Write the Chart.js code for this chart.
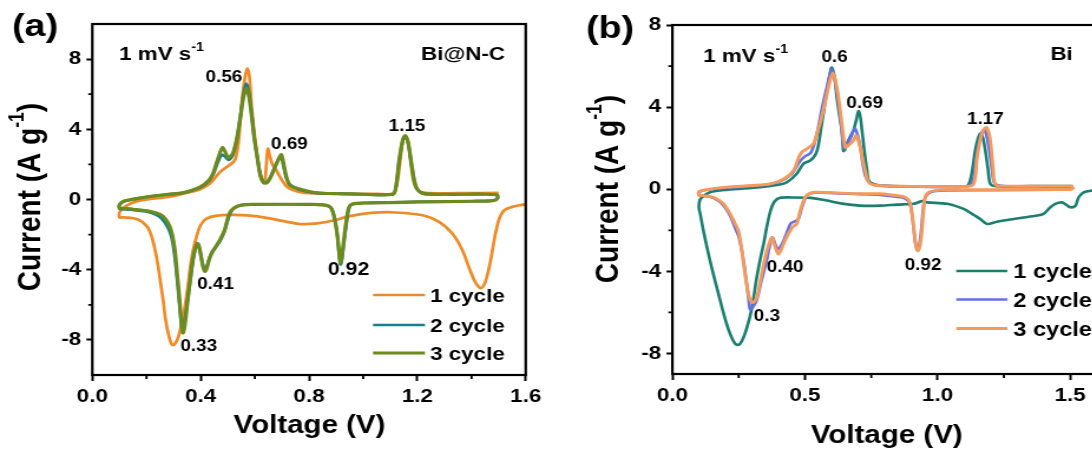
<!DOCTYPE html>
<html>
<head>
<meta charset="utf-8">
<title>CV curves Bi@N-C / Bi</title>
<script src="https://cdn.jsdelivr.net/npm/chart.js@4.4.0/dist/chart.umd.min.js"></script>
<style>
  html, body { margin: 0; padding: 0; background: #fff; }
  #page { position: relative; width: 1092px; height: 455px; overflow: hidden; background: #fff; }
  #page canvas { position: absolute; top: 0; }
</style>
</head>
<body>
<div id="page">
  <canvas id="cvA"></canvas>
  <canvas id="cvB"></canvas>
</div>
<script>
// ==========================
// DATA  (voltage V, current A/g, in scan order)
// ==========================

// (a) Bi@N-C
const a1V = [1.60, 1.58, 1.55, 1.52, 1.50, 1.485, 1.47, 1.455, 1.445, 1.435, 1.425, 1.41, 1.39, 1.365, 1.33, 1.28, 1.22, 1.12, 1.04, 0.95, 0.89, 0.83, 0.77, 0.70, 0.61, 0.52, 0.46, 0.42, 0.40, 0.385, 0.372, 0.362, 0.354, 0.345, 0.335, 0.325, 0.317, 0.308, 0.299, 0.290, 0.280, 0.270, 0.262, 0.252, 0.243, 0.232, 0.219, 0.205, 0.188, 0.170, 0.151, 0.130, 0.110, 0.100,
             0.100, 0.110, 0.130, 0.160, 0.210, 0.280, 0.360, 0.400, 0.435, 0.470, 0.500, 0.515, 0.528, 0.540, 0.550, 0.560, 0.572, 0.580, 0.588, 0.598, 0.608, 0.620, 0.630, 0.637, 0.643, 0.648, 0.655, 0.665, 0.680, 0.700, 0.720, 0.760, 0.820, 0.950, 1.050, 1.110, 1.125, 1.135, 1.145, 1.155, 1.165, 1.175, 1.185, 1.200, 1.230, 1.350, 1.500];
const a1I = [-0.28, -0.32, -0.42, -0.62, -1.2, -2.2, -3.5, -4.5, -4.9, -5.05, -4.95, -4.6, -3.85, -2.85, -1.95, -1.28, -0.9, -0.74, -0.75, -0.95, -1.2, -1.36, -1.40, -1.22, -0.96, -0.88, -0.92, -1.1, -1.45, -2.1, -2.9, -3.8, -4.8, -5.8, -6.7, -7.4, -7.85, -8.15, -8.3, -8.15, -7.6, -6.8, -5.8, -4.75, -3.8, -2.9, -2.1, -1.6, -1.32, -1.15, -1.07, -1.03, -1.02, -1.02,
             -0.75, -0.55, -0.32, -0.12, 0.02, 0.15, 0.42, 0.6, 0.92, 1.55, 1.9, 2.05, 2.3, 3.3, 5.2, 6.6, 7.45, 7.0, 5.3, 3.8, 2.6, 1.35, 1.02, 1.1, 2.1, 2.9, 2.5, 2.0, 1.65, 1.1, 0.7, 0.45, 0.35, 0.33, 0.32, 0.35, 0.9, 2.0, 3.2, 3.65, 3.3, 2.2, 1.1, 0.55, 0.38, 0.36, 0.38];

const a2V = [1.500, 1.490, 1.470, 1.400, 1.200, 1.000, 0.960, 0.948, 0.938, 0.928, 0.921, 0.916, 0.911, 0.905, 0.898, 0.890, 0.880, 0.860, 0.800, 0.700, 0.600, 0.550, 0.522, 0.507, 0.497, 0.487, 0.472, 0.457, 0.443, 0.432, 0.423, 0.416, 0.409, 0.401, 0.393, 0.387, 0.380, 0.372, 0.362, 0.353, 0.344, 0.337, 0.332, 0.327, 0.320, 0.312, 0.303, 0.293, 0.282, 0.265, 0.245, 0.210, 0.150, 0.110, 0.100,
             0.100, 0.115, 0.150, 0.210, 0.280, 0.335, 0.397, 0.430, 0.447, 0.463, 0.478, 0.490, 0.502, 0.518, 0.534, 0.548, 0.558, 0.568, 0.578, 0.588, 0.598, 0.610, 0.620, 0.632, 0.645, 0.658, 0.672, 0.686, 0.696, 0.706, 0.716, 0.730, 0.765, 0.820, 0.900, 1.000, 1.110, 1.121, 1.133, 1.146, 1.155, 1.166, 1.180, 1.195, 1.220, 1.300, 1.450, 1.490, 1.500];
const a2I = [0.2, 0.0, -0.08, -0.1, -0.14, -0.2, -0.27, -0.5, -1.4, -2.6, -3.5, -3.7, -3.1, -2.1, -1.35, -0.8, -0.45, -0.33, -0.28, -0.27, -0.28, -0.33, -0.5, -0.85, -1.35, -1.85, -2.35, -2.7, -3.0, -3.35, -3.8, -4.0, -3.8, -3.2, -2.65, -2.55, -2.85, -3.5, -4.6, -5.6, -6.6, -7.2, -7.4, -6.9, -5.7, -4.4, -3.1, -2.2, -1.7, -1.25, -0.95, -0.72, -0.6, -0.55, -0.53,
             -0.33, -0.12, 0.0, 0.16, 0.3, 0.38, 0.68, 1.05, 1.45, 2.1, 2.55, 2.45, 2.25, 2.5, 3.5, 4.9, 6.0, 6.6, 6.1, 4.9, 3.5, 2.3, 1.45, 1.0, 1.0, 1.3, 1.8, 2.25, 2.45, 1.9, 1.25, 0.85, 0.55, 0.38, 0.33, 0.3, 0.3, 0.73, 2.2, 3.35, 3.58, 3.2, 1.85, 0.73, 0.35, 0.3, 0.3, 0.27, 0.2];

const a3V = [1.500, 1.490, 1.470, 1.400, 1.200, 1.000, 0.960, 0.947, 0.937, 0.927, 0.920, 0.916, 0.911, 0.905, 0.898, 0.890, 0.880, 0.860, 0.800, 0.700, 0.600, 0.550, 0.522, 0.506, 0.496, 0.487, 0.471, 0.457, 0.444, 0.433, 0.423, 0.416, 0.409, 0.401, 0.393, 0.387, 0.380, 0.372, 0.362, 0.354, 0.346, 0.339, 0.334, 0.329, 0.321, 0.313, 0.305, 0.295, 0.285, 0.270, 0.250, 0.212, 0.151, 0.110, 0.100,
             0.100, 0.115, 0.150, 0.210, 0.280, 0.335, 0.397, 0.430, 0.446, 0.463, 0.480, 0.491, 0.501, 0.518, 0.534, 0.548, 0.559, 0.569, 0.578, 0.588, 0.598, 0.610, 0.620, 0.632, 0.645, 0.658, 0.672, 0.686, 0.698, 0.708, 0.718, 0.730, 0.765, 0.820, 0.900, 1.000, 1.110, 1.121, 1.133, 1.146, 1.155, 1.166, 1.180, 1.195, 1.220, 1.300, 1.450, 1.490, 1.500];
const a3I = [0.15, -0.02, -0.08, -0.1, -0.14, -0.2, -0.25, -0.45, -1.3, -2.5, -3.4, -3.6, -3.0, -2.1, -1.4, -0.8, -0.45, -0.32, -0.28, -0.27, -0.28, -0.32, -0.5, -0.8, -1.3, -1.8, -2.3, -2.65, -2.95, -3.35, -3.9, -4.1, -3.85, -3.2, -2.6, -2.5, -2.8, -3.3, -4.5, -5.5, -6.6, -7.4, -7.6, -7.0, -5.5, -4.2, -2.9, -2.0, -1.5, -1.1, -0.85, -0.68, -0.56, -0.5, -0.48,
             -0.3, -0.1, 0.02, 0.17, 0.3, 0.38, 0.7, 1.1, 1.5, 2.3, 2.95, 2.7, 2.4, 2.6, 3.5, 4.8, 5.9, 6.35, 5.9, 4.8, 3.5, 2.3, 1.4, 0.95, 0.95, 1.25, 1.75, 2.25, 2.55, 1.9, 1.2, 0.8, 0.6, 0.4, 0.33, 0.3, 0.3, 0.73, 2.25, 3.4, 3.62, 3.25, 1.87, 0.73, 0.35, 0.3, 0.3, 0.27, 0.15];

// (b) Bi
const b1V = [1.600, 1.584, 1.551, 1.532, 1.520, 1.501, 1.485, 1.469, 1.444, 1.425, 1.400, 1.369, 1.287, 1.224, 1.186, 1.161, 1.130, 1.098, 1.036, 0.960, 0.941, 0.925, 0.910, 0.847, 0.784, 0.708, 0.640, 0.583, 0.520, 0.450, 0.406, 0.385, 0.370, 0.355, 0.345, 0.333, 0.318, 0.300, 0.281, 0.262, 0.247, 0.230, 0.205, 0.174, 0.142, 0.117, 0.105, 0.100,
             0.102, 0.111, 0.142, 0.205, 0.331, 0.400, 0.432, 0.469, 0.494, 0.520, 0.540, 0.550, 0.560, 0.572, 0.583, 0.593, 0.601, 0.611, 0.620, 0.630, 0.639, 0.645, 0.651, 0.658, 0.670, 0.683, 0.694, 0.702, 0.709, 0.715, 0.721, 0.727, 0.734, 0.740, 0.760, 0.784, 0.900, 1.050, 1.110, 1.123, 1.133, 1.142, 1.152, 1.161, 1.171, 1.180, 1.190, 1.199, 1.220, 1.350, 1.507];
const b1I = [-0.05, -0.06, -0.15, -0.39, -0.80, -0.88, -0.75, -0.64, -0.71, -0.88, -1.20, -1.29, -1.45, -1.58, -1.69, -1.45, -1.20, -0.96, -0.71, -0.64, -0.58, -0.65, -0.71, -0.75, -0.80, -0.80, -0.70, -0.55, -0.42, -0.40, -0.42, -0.60, -1.05, -1.90, -2.60, -3.30, -4.30, -5.77, -6.74, -7.39, -7.59, -7.39, -6.58, -5.11, -3.48, -2.02, -1.20, -0.90,
             -0.60, -0.40, -0.15, -0.03, 0.10, 0.22, 0.34, 0.75, 1.24, 1.40, 1.70, 2.10, 2.90, 3.90, 4.82, 5.55, 5.93, 5.50, 4.50, 3.60, 2.87, 1.86, 1.95, 2.22, 2.55, 2.87, 3.40, 3.81, 3.50, 2.87, 2.20, 1.56, 0.90, 0.43, 0.25, 0.18, 0.13, 0.12, 0.15, 0.43, 1.10, 1.89, 2.45, 2.71, 2.50, 1.89, 1.00, 0.26, 0.15, 0.15, 0.15];

const b2V = [1.510, 1.500, 1.450, 1.200, 1.036, 0.985, 0.966, 0.952, 0.944, 0.937, 0.929, 0.922, 0.915, 0.908, 0.897, 0.878, 0.820, 0.784, 0.708, 0.545, 0.520, 0.505, 0.488, 0.475, 0.460, 0.447, 0.435, 0.420, 0.405, 0.396, 0.386, 0.377, 0.368, 0.355, 0.337, 0.318, 0.303, 0.293, 0.287, 0.280, 0.272, 0.262, 0.250, 0.237, 0.218, 0.190, 0.155, 0.117, 0.100,
             0.100, 0.120, 0.205, 0.330, 0.400, 0.450, 0.480, 0.500, 0.520, 0.535, 0.550, 0.565, 0.585, 0.600, 0.610, 0.625, 0.637, 0.648, 0.658, 0.672, 0.688, 0.697, 0.708, 0.720, 0.735, 0.770, 0.900, 1.100, 1.130, 1.145, 1.160, 1.175, 1.185, 1.195, 1.205, 1.215, 1.250, 1.400, 1.510];
const b2I = [0.10, 0.00, -0.02, -0.05, -0.06, -0.1, -0.2, -0.45, -1.2, -2.2, -2.85, -2.95, -2.5, -1.7, -0.75, -0.45, -0.33, -0.28, -0.24, -0.17, -0.20, -0.35, -0.90, -1.45, -1.58, -1.65, -2.00, -2.50, -2.85, -2.91, -2.60, -2.35, -2.70, -3.50, -4.40, -5.40, -5.75, -5.85, -5.30, -4.60, -3.80, -3.00, -2.30, -1.90, -1.30, -0.75, -0.42, -0.32, -0.30,
             -0.15, -0.05, 0.07, 0.18, 0.35, 0.75, 1.35, 1.60, 1.75, 2.20, 3.00, 4.00, 5.10, 5.80, 5.50, 4.40, 3.10, 2.00, 2.15, 2.50, 2.95, 2.70, 2.10, 1.10, 0.45, 0.20, 0.13, 0.12, 0.30, 1.40, 2.50, 2.90, 2.60, 1.90, 1.00, 0.30, 0.15, 0.14, 0.12];

const b3V = [1.515, 1.505, 1.450, 1.200, 1.036, 0.985, 0.966, 0.953, 0.946, 0.940, 0.933, 0.925, 0.917, 0.910, 0.897, 0.878, 0.820, 0.784, 0.708, 0.545, 0.520, 0.501, 0.482, 0.469, 0.457, 0.444, 0.430, 0.419, 0.410, 0.400, 0.390, 0.380, 0.375, 0.366, 0.356, 0.347, 0.337, 0.318, 0.303, 0.294, 0.287, 0.274, 0.262, 0.249, 0.237, 0.218, 0.192, 0.155, 0.117, 0.100,
             0.100, 0.130, 0.205, 0.300, 0.369, 0.420, 0.457, 0.475, 0.488, 0.507, 0.532, 0.545, 0.557, 0.570, 0.583, 0.595, 0.605, 0.615, 0.626, 0.639, 0.652, 0.664, 0.683, 0.693, 0.708, 0.717, 0.727, 0.740, 0.771, 0.900, 1.100, 1.136, 1.149, 1.158, 1.167, 1.177, 1.186, 1.193, 1.199, 1.209, 1.218, 1.250, 1.400, 1.513];
const b3I = [0.10, 0.00, -0.01, -0.02, -0.03, -0.08, -0.15, -0.39, -1.20, -2.18, -2.80, -3.00, -2.60, -1.86, -0.71, -0.39, -0.27, -0.22, -0.22, -0.15, -0.19, -0.39, -1.04, -1.69, -1.80, -2.02, -2.35, -2.67, -2.95, -3.16, -2.90, -2.50, -2.35, -2.60, -3.00, -3.50, -4.13, -5.28, -5.52, -5.40, -5.11, -4.13, -3.00, -2.02, -1.69, -1.20, -0.71, -0.39, -0.31, -0.28,
             -0.12, -0.02, 0.10, 0.18, 0.26, 0.50, 0.91, 1.50, 1.81, 1.97, 2.22, 2.70, 3.20, 3.90, 4.66, 5.30, 5.67, 5.30, 4.50, 3.20, 2.05, 2.14, 2.38, 2.62, 2.05, 1.50, 0.91, 0.34, 0.18, 0.14, 0.13, 0.26, 1.56, 2.20, 2.71, 2.95, 3.00, 2.75, 2.38, 1.08, 0.23, 0.15, 0.15, 0.15];

const cycleLabels = ['1 cycle', '2 cycle', '3 cycle'];

// ticks
const aXTicks = [0, 0.4, 0.8, 1.2, 1.6];
const aXMinor = [0.2, 0.6, 1.0, 1.4];
const aYTicks = [-8, -4, 0, 4, 8];
const aYMinor = [-6, -2, 2, 6];
const bXTicks = [0, 0.5, 1.0, 1.5];
const bXMinor = [0.25, 0.75, 1.25];
const bYTicks = [-8, -4, 0, 4, 8];
const bYMinor = [-6, -2, 2, 6];

// peak potentials written on the plots
const aPeaks = ['0.56', '0.69', '1.15', '0.92', '0.41', '0.33'];
const bPeaks = ['0.6', '0.69', '1.17', '0.40', '0.3', '0.92'];

// ==========================
// LAYOUT
// ==========================

// the source figure is stretched sideways, so each canvas is drawn narrow and widened by CSS
const S = 546 / 463;
const FONT = '"Liberation Sans", Arial, Helvetica, sans-serif';
const fnt = size => `bold ${size}px ${FONT}`;

const panelA = {
    off: 0, width: 463, left: 92.3, right: 526.7, top: 24, bottom: 375,
    xMax: 1.6, yMin: -10, yMax: 10,
    xTicks: aXTicks, xMinor: aXMinor, yTicks: aYTicks, yMinor: aYMinor,
    tag: ['(a)', 12, 36], rate: [119, 60], name: ['Bi@N-C', 505, 60, 'right'],
    xTitle: [309.5, 433], yTitle: [31, 197],
    legend: { x1: 373, x2: 425, tx: 430, rows: [295, 325, 353], size: 19 },
    peaks: aPeaks,
    peakAt: [[0.418, 6.70], [0.660, 2.88], [1.094, 3.90], [0.870, -4.30], [0.387, -5.10], [0.325, -8.63]],
    peakSize: [16, 16, 16, 18, 16, 16]
};

const panelB = {
    off: 546, width: 500, left: 672.3, right: 1096.3, top: 25, bottom: 374,
    xMax: 1.6, yMin: -9, yMax: 8,
    xTicks: bXTicks, xMinor: bXMinor, yTicks: bYTicks, yMinor: bYMinor,
    tag: ['(b)', 586, 38], rate: [703, 62], name: ['Bi', 1050, 60, 'left'],
    xTitle: [886.6, 443], yTitle: [609, 189],
    legend: { x1: 956, x2: 1007, tx: 1013, rows: [271, 299.5, 328.5], size: 20 },
    peaks: bPeaks,
    peakAt: [[0.562, 6.21], [0.656, 3.98], [1.111, 3.20], [0.356, -4.01], [0.307, -6.42], [0.876, -3.94]],
    peakSize: [16, 16, 16, 16, 16, 16]
};

function series(V, I) {
    return V.map((v, i) => ({ x: v, y: I[i] }));
}

function line(label, V, I, color, width, order) {
    return {
        label: label, data: series(V, I),
        borderColor: color, backgroundColor: color, borderWidth: width,
        showLine: true, pointRadius: 0, tension: 0.3, order: order
    };
}

// text with a superscript part, e.g. s^-1
function supText(ctx, x, y, parts, size, align) {
    let w = 0;
    parts.forEach(([t, sup]) => { ctx.font = fnt(sup ? size * 0.63 : size); w += ctx.measureText(t).width; });
    let cx = align === 'center' ? x - w / 2 : align === 'right' ? x - w : x;
    ctx.textAlign = 'left';
    parts.forEach(([t, sup]) => {
        ctx.font = fnt(sup ? size * 0.63 : size);
        ctx.fillText(t, cx, sup ? y - size * 0.5 : y);
        cx += ctx.measureText(t).width;
    });
}

function decor(p) {
    return {
        id: 'decor',
        afterDraw(chart) {
            const ctx = chart.ctx, a = chart.chartArea;
            const xs = chart.scales.x, ys = chart.scales.y;
            const ix = dx => (dx - p.off) / S;

            ctx.save();
            ctx.strokeStyle = '#000';
            ctx.fillStyle = '#000';

            // frame
            ctx.lineWidth = 2.2;
            ctx.strokeRect(a.left, a.top, a.right - a.left, a.bottom - a.top);

            // minor ticks
            ctx.lineWidth = 1.8;
            ctx.beginPath();
            p.xMinor.forEach(v => {
                const x = xs.getPixelForValue(v);
                ctx.moveTo(x, a.bottom); ctx.lineTo(x, a.bottom + 4);
            });
            p.yMinor.forEach(v => {
                const y = ys.getPixelForValue(v);
                ctx.moveTo(a.left, y); ctx.lineTo(a.left - 3.4, y);
            });
            ctx.stroke();

            ctx.textBaseline = 'alphabetic';

            // panel tag, scan rate, sample
            ctx.font = fnt(32); ctx.textAlign = 'left';
            ctx.fillText(p.tag[0], ix(p.tag[1]), p.tag[2]);
            supText(ctx, ix(p.rate[0]), p.rate[1], [['1 mV s'], ['-1', true]], 19, 'left');
            ctx.font = fnt(19); ctx.textAlign = p.name[3];
            ctx.fillText(p.name[0], ix(p.name[1]), p.name[2]);

            // peak labels
            ctx.textAlign = 'left';
            p.peaks.forEach((t, i) => {
                ctx.font = fnt(p.peakSize[i]);
                ctx.fillText(t, xs.getPixelForValue(p.peakAt[i][0]), ys.getPixelForValue(p.peakAt[i][1]));
            });

            // axis titles
            ctx.font = fnt(25); ctx.textAlign = 'center';
            ctx.fillText('Voltage (V)', ix(p.xTitle[0]), p.xTitle[1]);
            ctx.save();
            ctx.translate(ix(p.yTitle[0]), p.yTitle[1]);
            ctx.rotate(-Math.PI / 2);
            supText(ctx, 0, 28 * 0.27, [['Current (A g'], ['-1', true], [')']], 28, 'center');
            ctx.restore();

            // legend
            const L = p.legend;
            chart.data.datasets.forEach((ds, i) => {
                const y = L.rows[i];
                ctx.strokeStyle = ds.borderColor;
                ctx.lineWidth = ds.borderWidth;
                ctx.beginPath();
                ctx.moveTo(ix(L.x1), y); ctx.lineTo(ix(L.x2), y);
                ctx.stroke();
                ctx.font = fnt(L.size); ctx.textAlign = 'left';
                ctx.fillText(ds.label, ix(L.tx), y + L.size * 0.36);
            });

            ctx.restore();
        }
    };
}

function makeChart(id, p, datasets) {
    const cv = document.getElementById(id);
    cv.width = p.width;
    cv.height = 455;
    cv.style.left = p.off + 'px';
    cv.style.width = (p.width * S) + 'px';
    cv.style.height = '455px';

    const leftIn = (p.left - p.off) / S;
    const rightIn = (p.right - p.off) / S;
    const tickFont = { family: FONT, size: 19, weight: 'bold' };

    return new Chart(cv, {
        type: 'scatter',
        data: { datasets: datasets },
        options: {
            responsive: false,
            animation: false,
            devicePixelRatio: 1,
            events: [],
            layout: { padding: { left: 0, top: p.top, right: p.width - rightIn, bottom: 0 } },
            plugins: { legend: { display: false }, tooltip: { enabled: false } },
            scales: {
                x: {
                    type: 'linear', min: 0, max: p.xMax,
                    afterBuildTicks: s => { s.ticks = p.xTicks.map(v => ({ value: v })); },
                    afterFit: s => { s.height = 455 - p.bottom; },
                    ticks: { color: '#000', font: tickFont, padding: 4, maxRotation: 0, autoSkip: false,
                             callback: v => Number(v).toFixed(1) },
                    grid: { drawOnChartArea: false, tickLength: 6, tickWidth: 2, tickColor: '#000' },
                    border: { display: false }
                },
                y: {
                    type: 'linear', min: p.yMin, max: p.yMax,
                    afterBuildTicks: s => { s.ticks = p.yTicks.map(v => ({ value: v })); },
                    afterFit: s => { s.width = leftIn; },
                    ticks: { color: '#000', font: tickFont, padding: 4.5, autoSkip: false,
                             callback: v => String(v) },
                    grid: { drawOnChartArea: false, tickLength: 5, tickWidth: 2, tickColor: '#000' },
                    border: { display: false }
                }
            }
        },
        plugins: [decor(p)]
    });
}

// ==========================
// CHARTS
// ==========================

makeChart('cvA', panelA, [
    line(cycleLabels[0], a1V, a1I, '#F08A26', 2.7, 2),
    line(cycleLabels[1], a2V, a2I, '#17808A', 2.7, 1),
    line(cycleLabels[2], a3V, a3I, '#6C8A1E', 3.2, 0)
]);

makeChart('cvB', panelB, [
    line(cycleLabels[0], b1V, b1I, '#1A7F6E', 2.6, 2),
    line(cycleLabels[1], b2V, b2I, '#6670E4', 2.6, 1),
    line(cycleLabels[2], b3V, b3I, '#F49A5C', 2.9, 0)
]);
</script>
</body>
</html>
